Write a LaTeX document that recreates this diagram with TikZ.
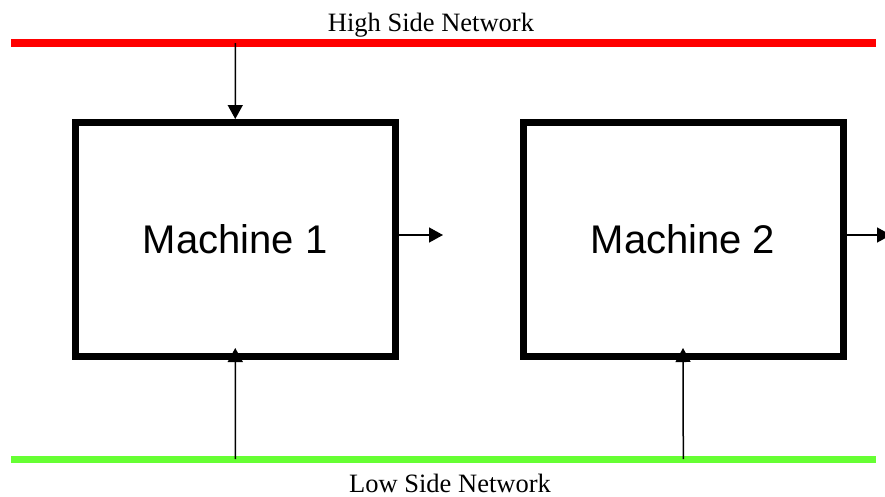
\documentclass[tikz,border=0pt]{standalone}
\usepackage{fontspec}
\setmainfont{Liberation Serif}
\newfontfamily\machfont{Liberation Sans}
\usetikzlibrary{arrows.meta}
\definecolor{hired}{RGB}{255,0,0}
\definecolor{logreen}{RGB}{102,255,51}
\begin{document}
\begin{tikzpicture}[x=1pt,y=-1pt,
  bus/.style={line width=#1, line cap=butt},
  machbox/.style={draw=black, line width=7pt, minimum width=320pt, minimum height=233.5pt, inner sep=0pt, font=\machfont\fontsize{40}{44}\selectfont},
  lbl/.style={anchor=base, inner sep=0pt, font=\fontsize{26.5}{30}\selectfont},
  conn/.style={line width=1.5pt, -{Triangle[length=14pt,width=15pt]}}]
\useasboundingbox (0,0) rectangle (885,496);
% buses
\coordinate (hsL) at (11,43);
\coordinate (hsR) at (876,43);
\coordinate (lsL) at (11,459);
\coordinate (lsR) at (876,459);
\draw[bus=8pt, hired] (hsL) -- (hsR);
\draw[bus=7pt, logreen] (lsL) -- (lsR);
% labels
\node[lbl] (hlabel) at (431,31.7) {High Side Network};
\node[lbl] (llabel) at (450,492.3) {Low Side Network};
% machines
\node[machbox] (m1) at (235.25,239.25) {Machine 1};
\node[machbox] (m2) at (683,239.25) {Machine 2};
% taps
\coordinate (h1) at (235.3,43);
\coordinate (l1) at (235.3,459);
\coordinate (l2) at (683.3,459);
\coordinate (o1) at (443,235);
\coordinate (o2) at (891,235);
\draw[conn] (h1) -- (m1.north);
\draw[conn] (l1) -- ([yshift=11.5pt]m1.south);
\draw[conn] (l2) -- ([yshift=11.5pt]m2.south);
\draw[conn] (m1.east |- o1) -- (o1);
\draw[conn] (m2.east |- o2) -- (o2);
\end{tikzpicture}
\end{document}
